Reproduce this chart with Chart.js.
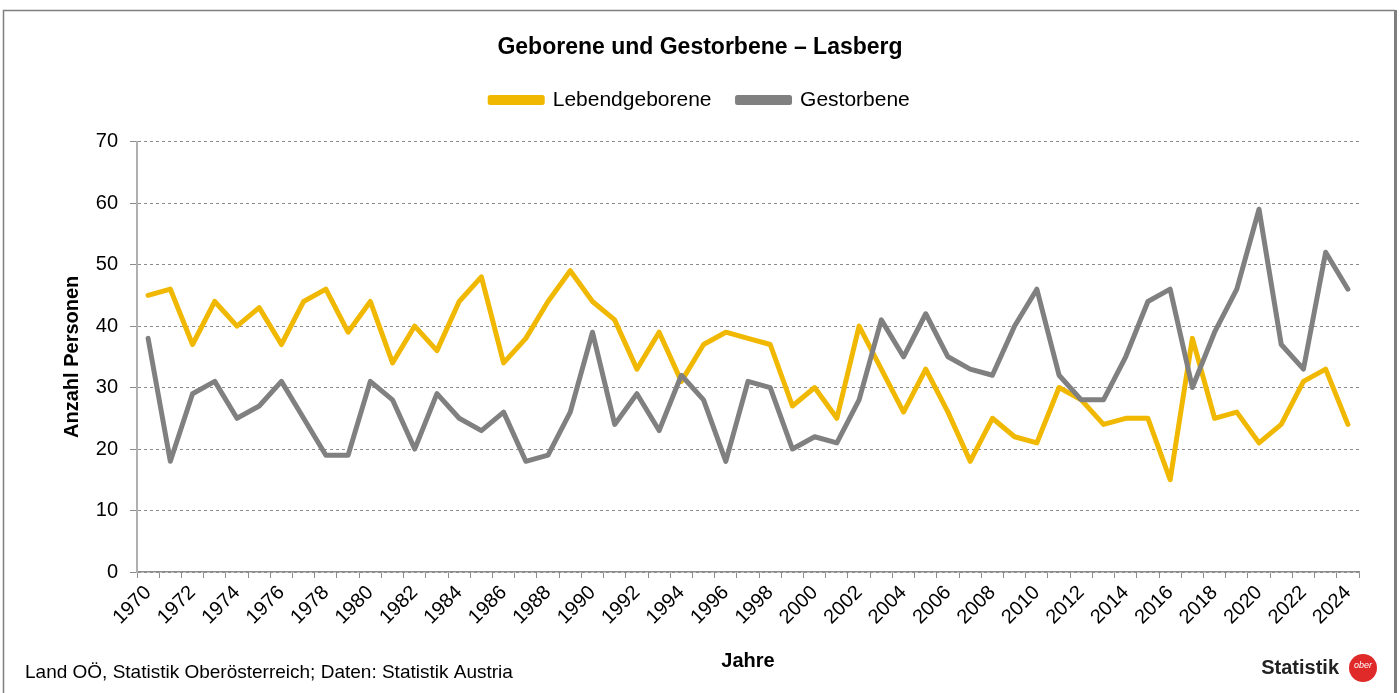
<!DOCTYPE html>
<html>
<head>
<meta charset="utf-8">
<script src="https://cdn.jsdelivr.net/npm/chart.js@4"></script>
<style>
  html, body { margin: 0; padding: 0; background: #fff; }
  #wrap { width: 1400px; height: 693px; }
</style>
</head>
<body>
<div id="wrap"><canvas id="linechart" width="1400" height="693"></canvas></div>
<script>
// Jahre 1970 - 2024
var years = [];
for (var y = 1970; y <= 2024; y++) years.push(String(y));

var lebendgeborene = [45, 46, 37, 44, 40, 43, 37, 44, 46, 39,
    44, 34, 40, 36, 44, 48, 34, 38, 44, 49,
    44, 41, 33, 39, 31, 37, 39, 38, 37, 27,
    30, 25, 40, 33, 26, 33, 26, 18, 25, 22,
    21, 30, 28, 24, 25, 25, 15, 38, 25, 26,
    21, 24, 31, 33, 24];

var gestorbene = [38, 18, 29, 31, 25, 27, 31, 25, 19, 19,
    31, 28, 20, 29, 25, 23, 26, 18, 19, 26,
    39, 24, 29, 23, 32, 28, 18, 31, 30, 20,
    22, 21, 28, 41, 35, 42, 35, 33, 32, 40,
    46, 32, 28, 28, 35, 44, 46, 30, 39, 46,
    59, 37, 33, 52, 46];

var yTicks = [0, 10, 20, 30, 40, 50, 60, 70];

var FONT = "'Liberation Sans', Arial, sans-serif";

// etwas Abstand zwischen Legende und Diagramm
var legendGap = {
    id: "legendGap",
    beforeInit: function (chart) {
        var fitValue = chart.legend.fit;
        chart.legend.fit = function () {
            fitValue.bind(chart.legend)();
            this.height += 21;
        };
    }
};

// Rahmen, Quelle und Logo
var frame = {
    id: "frame",
    beforeDraw: function (chart) {
        var c = chart.ctx;
        c.save();
        c.fillStyle = "#fff";
        c.fillRect(0, 0, chart.width, chart.height);
        c.strokeStyle = "#7f7f7f";
        c.lineWidth = 1.5;
        c.beginPath();
        c.moveTo(3.5, 700);
        c.lineTo(3.5, 10.5);
        c.lineTo(1395, 10.5);
        c.stroke();
        c.lineWidth = 3;
        c.beginPath();
        c.moveTo(1395.5, 10);
        c.lineTo(1395.5, 700);
        c.stroke();
        c.restore();
    },
    afterDraw: function (chart) {
        var c = chart.ctx;
        c.save();
        c.fillStyle = "#000";
        c.textBaseline = "middle";
        c.font = "19px " + FONT;
        c.fillText("Land OÖ, Statistik Oberösterreich; Daten: Statistik Austria", 25, 673);
        c.font = "bold 20px " + FONT;
        c.fillStyle = "#222";
        c.textAlign = "right";
        c.fillText("Statistik", 1339, 668);
        c.fillStyle = "#e02a2a";
        c.beginPath();
        c.arc(1363, 668, 14, 0, Math.PI * 2);
        c.fill();
        c.fillStyle = "#fff";
        c.textAlign = "center";
        c.font = "italic 9px " + FONT;
        c.fillText("ober", 1363, 665);
        c.restore();
    }
};

var ctx = document.getElementById("linechart").getContext("2d");

var myChart = new Chart(ctx, {
    type: "line",
    data: {
        labels: years,
        datasets: [
            {
                label: "Lebendgeborene",
                data: lebendgeborene,
                borderColor: "#f0b800",
                backgroundColor: "#f0b800",
                borderWidth: 5,
                pointRadius: 0,
                tension: 0,
                borderJoinStyle: "round",
                borderCapStyle: "round",
                order: 1
            },
            {
                label: "Gestorbene",
                data: gestorbene,
                borderColor: "#808080",
                backgroundColor: "#808080",
                borderWidth: 5,
                pointRadius: 0,
                tension: 0,
                borderJoinStyle: "round",
                borderCapStyle: "round",
                order: 0
            }
        ]
    },
    options: {
        responsive: false,
        animation: false,
        events: [],
        layout: {
            padding: { left: 41, right: 41, top: 0, bottom: 0 }
        },
        plugins: {
            title: {
                display: true,
                text: "Geborene und Gestorbene – Lasberg",
                color: "#000",
                font: { family: FONT, size: 23, weight: "bold" },
                padding: { top: 34, bottom: 2 }
            },
            legend: {
                display: true,
                labels: {
                    color: "#000",
                    font: { family: FONT, size: 21 },
                    boxWidth: 52,
                    boxHeight: 5,
                    padding: 26,
                    sort: function (a, b) { return a.datasetIndex - b.datasetIndex; }
                }
            },
            tooltip: { enabled: false }
        },
        scales: {
            x: {
                type: "category",
                offset: true,
                grid: {
                    offset: true,
                    drawOnChartArea: false,
                    drawTicks: true,
                    tickLength: 6,
                    color: "#8c8c8c"
                },
                border: { display: true, color: "#8c8c8c", width: 1.5 },
                ticks: {
                    autoSkip: false,
                    maxRotation: 45,
                    minRotation: 45,
                    color: "#000",
                    padding: 3,
                    font: { family: FONT, size: 20 },
                    callback: function (val, i) {
                        return i % 2 === 0 ? years[i] : "";
                    }
                },
                title: {
                    display: true,
                    text: "Jahre",
                    color: "#000",
                    font: { family: FONT, size: 20, weight: "bold" },
                    padding: { top: 10, bottom: 20 }
                },
                afterFit: function (scale) { scale.height = 121; }
            },
            y: {
                min: 0,
                max: 70,
                afterBuildTicks: function (scale) {
                    scale.ticks = yTicks.map(function (v) { return { value: v }; });
                },
                grid: {
                    color: "#8c8c8c",
                    tickLength: 7,
                    tickColor: "#8c8c8c"
                },
                border: { display: true, color: "#b0b0b0", width: 2, dash: [3, 3] },
                ticks: {
                    color: "#000",
                    padding: 12,
                    font: { family: FONT, size: 20 }
                },
                title: {
                    display: true,
                    text: "Anzahl Personen",
                    color: "#000",
                    font: { family: FONT, size: 20, weight: "bold" },
                    padding: { top: 19, bottom: 0 }
                },
                afterFit: function (scale) { scale.width = 96; }
            }
        }
    },
    plugins: [legendGap, frame]
});
</script>
</body>
</html>
